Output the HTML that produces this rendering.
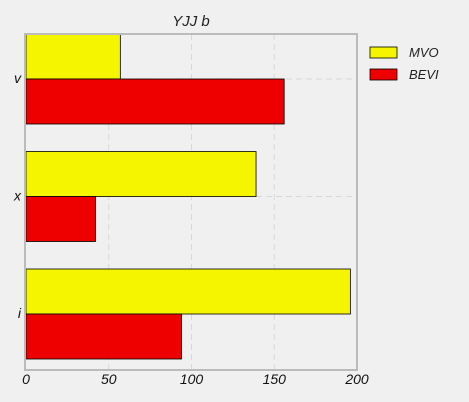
<!DOCTYPE html>
<html><head><meta charset="utf-8"><style>
body{margin:0;background:#f0f0f0;}
svg{display:block;font-family:"Liberation Sans",sans-serif;font-style:italic;}
</style></head><body>
<svg id="chart" width="469" height="402">
<rect width="469" height="402" fill="#f0f0f0"/>
<text x="191" y="26" font-size="15" text-anchor="middle" fill="#222">YJJ b</text>
<g id="grid"></g>
<g id="bars"></g>
<rect x="25" y="34" width="332" height="336" fill="none" stroke="#bbbbbb" stroke-width="2"/>
<g id="ticks"></g>
<g>
<rect x="370" y="47" width="27" height="11" fill="#f5f500" stroke="#000" stroke-width="0.8"/>
<text x="409" y="57" font-size="13" fill="#222">MVO</text>
<rect x="370" y="69" width="27" height="11" fill="#ee0000" stroke="#000" stroke-width="0.8"/>
<text x="409" y="79" font-size="13" fill="#222">BEVI</text>
</g>
</svg>
<script>
const categories=["v","x","i"];
const mvo=[57,139,196];
const bevi=[156,42,94];
const xTicks=[0,50,100,150,200];
const ns="http://www.w3.org/2000/svg";
const X0=26,X1=357,Y0=34,Y1=370;
function xs(v){return X0+(v/200)*(X1-X0);}
const step=117.5;
function yc(i){return 79+step*i;}
const bh=45;
function mk(t,a,p){const e=document.createElementNS(ns,t);for(const k in a)e.setAttribute(k,a[k]);p.appendChild(e);return e;}
const grid=document.getElementById('grid'),bars=document.getElementById('bars'),ticks=document.getElementById('ticks');
xTicks.forEach(t=>{
 if(t>0&&t<200){const l=mk('line',{x1:xs(t),x2:xs(t),y1:Y0,y2:Y1,stroke:'#d8d8d8','stroke-dasharray':'6,4'},grid);
 
 }
 const tx=mk('text',{x:xs(t),y:384,'font-size':14,'text-anchor':'middle',fill:'#111'},ticks);tx.textContent=t;
 
 
});
categories.forEach((c,i)=>{
 const l=mk('line',{x1:X0,x2:X1,y1:yc(i),y2:yc(i),stroke:'#d8d8d8','stroke-dasharray':'6,4'},grid);
 
 
 const a=mk('rect',{x:X0,y:yc(i)-bh,width:xs(mvo[i])-X0,height:bh,fill:'#f5f500',stroke:'#000','stroke-width':0.8},bars);
 
 
 const b=mk('rect',{x:X0,y:yc(i),width:xs(bevi[i])-X0,height:bh,fill:'#ee0000',stroke:'#000','stroke-width':0.8},bars);
 
 
 const t=mk('text',{x:21,y:yc(i)+4,'font-size':14,'text-anchor':'end',fill:'#111'},ticks);t.textContent=c;
 
 
});
</script>
</body></html>
